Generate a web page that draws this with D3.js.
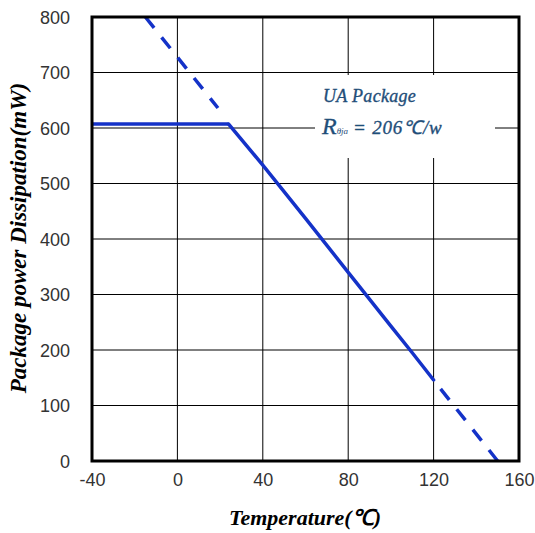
<!DOCTYPE html>
<html>
<head>
<meta charset="utf-8">
<script src="https://cdn.jsdelivr.net/npm/d3@7"></script>
<style>
  body { margin: 0; background: #fff; }
  .tick text { font-family: "Liberation Sans", Arial, sans-serif; fill: #333; }
</style>
</head>
<body>
<div id="chart"></div>
<script>
// données
const xTicks = [-40, 0, 40, 80, 120, 160];
const yTicks = [0, 100, 200, 300, 400, 500, 600, 700, 800];

// palier horizontal puis dérating (206 °C/W)
const flatTemp = [-40, 24];
const flatPower = [607, 607];
const solidTemp = [24, 40, 60, 80, 100, 110, 120];
const solidPower = [607, 533, 437, 340, 243, 195, 146];
const dashTopTemp = [-15, 19];
const dashTopPower = [800, 636];
const dashBotTemp = [150, 120];
const dashBotPower = [0, 146];

const width = 535, height = 533;
const margin = { top: 17, right: 16, bottom: 72, left: 92 };

const svg = d3.select("#chart")
  .append("svg")
  .attr("width", width)
  .attr("height", height);

const x = d3.scaleLinear()
  .domain([-40, 160])
  .range([margin.left, width - margin.right]);

const y = d3.scaleLinear()
  .domain([0, 800])
  .range([height - margin.bottom, margin.top]);

// grille
svg.append("g")
  .selectAll("line")
  .data(xTicks.slice(1, -1))
  .join("line")
  .attr("x1", d => x(d)).attr("x2", d => x(d))
  .attr("y1", y(0)).attr("y2", y(800))
  .attr("stroke", "#000").attr("stroke-width", 1);

svg.append("g")
  .selectAll("line")
  .data(yTicks.slice(1, -1))
  .join("line")
  .attr("x1", x(-40)).attr("x2", x(160))
  .attr("y1", d => y(d)).attr("y2", d => y(d))
  .attr("stroke", "#000").attr("stroke-width", 1);

// axes
const gx = svg.append("g")
  .attr("transform", "translate(0," + y(0) + ")")
  .call(d3.axisBottom(x).tickValues(xTicks).tickFormat(d => String(d)).tickSize(0).tickPadding(12));
gx.select(".domain").remove();
gx.selectAll("text").attr("font-size", 18);

const gy = svg.append("g")
  .attr("transform", "translate(" + x(-40) + ",0)")
  .call(d3.axisLeft(y).tickValues(yTicks).tickSize(0).tickPadding(22));
gy.select(".domain").remove();
gy.selectAll("text").attr("font-size", 18).attr("dy", "0.36em");

// courbes
const line = d3.line()
  .x(d => x(d[0]))
  .y(d => y(d[1]));

const blue = "#1432c8";

svg.append("path")
  .datum(d3.zip(flatTemp, flatPower))
  .attr("d", line)
  .attr("fill", "none").attr("stroke", blue).attr("stroke-width", 3.5);

svg.append("path")
  .datum(d3.zip(solidTemp, solidPower))
  .attr("d", line)
  .attr("fill", "none").attr("stroke", blue).attr("stroke-width", 3.5)
  .attr("stroke-linecap", "round");

[d3.zip(dashTopTemp, dashTopPower), d3.zip(dashBotTemp, dashBotPower)].forEach(seg => {
  svg.append("path")
    .datum(seg)
    .attr("d", line)
    .attr("fill", "none").attr("stroke", blue).attr("stroke-width", 3.5)
    .attr("stroke-dasharray", "14,12");
});

// cadre
svg.append("rect")
  .attr("x", x(-40)).attr("y", y(800))
  .attr("width", x(160) - x(-40)).attr("height", y(0) - y(800))
  .attr("fill", "none").attr("stroke", "#000").attr("stroke-width", 3);

// légende
svg.append("rect")
  .attr("x", 315).attr("y", 75).attr("width", 180).attr("height", 83)
  .attr("fill", "#fff");

const ann = "#1f4e79";
svg.append("text")
  .attr("x", 323).attr("y", 102)
  .attr("font-family", "Liberation Serif, serif")
  .attr("font-style", "italic")
  .attr("font-size", 18)
  .attr("letter-spacing", 0.3)
  .attr("fill", ann).attr("stroke", ann).attr("stroke-width", 0.35)
  .text("UA Package");

const r = svg.append("text")
  .attr("x", 322).attr("y", 134)
  .attr("font-family", "Liberation Serif, serif")
  .attr("font-style", "italic")
  .attr("fill", ann).attr("stroke", ann).attr("stroke-width", 0.35);
r.append("tspan").attr("font-size", 24).text("R");
r.append("tspan").attr("font-size", 9).attr("stroke-width", 0).text("θja");
r.append("tspan").attr("font-size", 19).attr("dx", 5).attr("letter-spacing", 0.8).text("= 206℃/w");

// titres des axes
svg.append("text")
  .attr("x", 305).attr("y", 525)
  .attr("text-anchor", "middle")
  .attr("font-family", "Liberation Serif, serif")
  .attr("font-style", "italic").attr("font-weight", "bold")
  .attr("font-size", 22)
  .text("Temperature(℃)");

svg.append("text")
  .attr("transform", "translate(26,238) rotate(-90)")
  .attr("text-anchor", "middle")
  .attr("font-family", "Liberation Serif, serif")
  .attr("font-style", "italic").attr("font-weight", "bold")
  .attr("font-size", 23)
  .text("Package power Dissipation(mW)");
</script>
</body>
</html>
